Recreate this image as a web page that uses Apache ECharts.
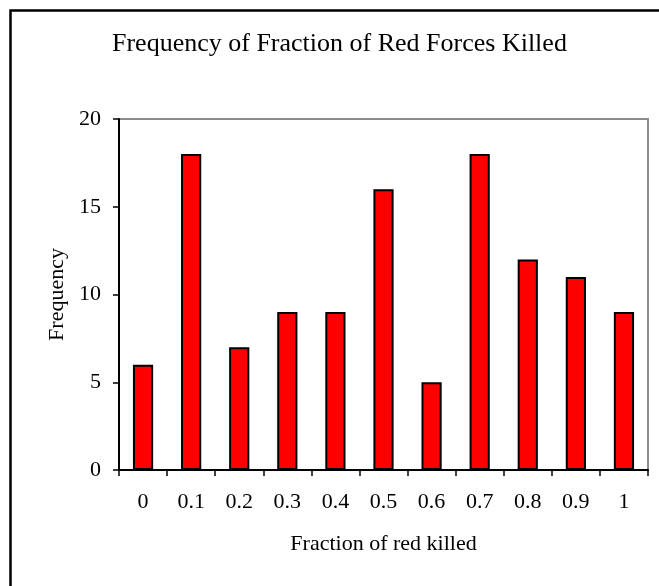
<!DOCTYPE html>
<html>
<head>
<meta charset="utf-8">
<script src="https://cdn.jsdelivr.net/npm/echarts@6/dist/echarts.min.js"></script>
<style>
  html, body { margin: 0; padding: 0; background: #fff; }
  #chart { width: 659px; height: 586px; }
</style>
</head>
<body>
<div id="chart"></div>
<script>
const fractions = ["0", "0.1", "0.2", "0.3", "0.4", "0.5", "0.6", "0.7", "0.8", "0.9", "1"];
const frequency = [6, 18, 7, 9, 9, 16, 5, 18, 12, 11, 9];

const font = "'Liberation Serif', 'Times New Roman', serif";
const chart = echarts.init(document.getElementById("chart"));

chart.setOption({
  animation: false,
  backgroundColor: "#fff",
  title: {
    text: "Frequency of Fraction of Red Forces Killed",
    left: 112,
    top: 31,
    padding: 0,
    textStyle: { fontFamily: font, fontSize: 26, fontWeight: "normal", color: "#000" }
  },
  graphic: [{
    type: "rect",
    shape: { x: 10.5, y: 10.5, width: 1000, height: 1000 },
    style: { fill: "none", stroke: "#000", lineWidth: 2.5 },
    silent: true
  }],
  grid: {
    left: 119, top: 119, right: 11, bottom: 116,
    show: true, borderColor: "#8c8c8c", borderWidth: 2
  },
  xAxis: {
    type: "category",
    data: fractions,
    name: "Fraction of red killed",
    nameLocation: "middle",
    nameGap: 63,
    nameTextStyle: { fontFamily: font, fontSize: 22, color: "#000" },
    axisLine: { lineStyle: { color: "#000", width: 2 } },
    axisTick: { show: true, length: 6, lineStyle: { color: "#000", width: 1.5 } },
    axisLabel: { fontFamily: font, fontSize: 22, color: "#000", margin: 21 }
  },
  yAxis: {
    type: "value",
    min: 0, max: 20, interval: 5,
    name: "Frequency",
    nameLocation: "middle",
    nameGap: 46,
    nameTextStyle: { fontFamily: font, fontSize: 22, color: "#000" },
    axisLine: { show: true, lineStyle: { color: "#000", width: 2 } },
    axisTick: { show: true, length: 6, lineStyle: { color: "#000", width: 1.5 } },
    axisLabel: { fontFamily: font, fontSize: 22, color: "#000", margin: 18 },
    splitLine: { show: false }
  },
  series: [{
    type: "bar",
    data: frequency,
    barWidth: "42%",
    itemStyle: { color: "#ff0000", borderColor: "#000", borderWidth: 2 }
  }]
});
</script>
</body>
</html>
